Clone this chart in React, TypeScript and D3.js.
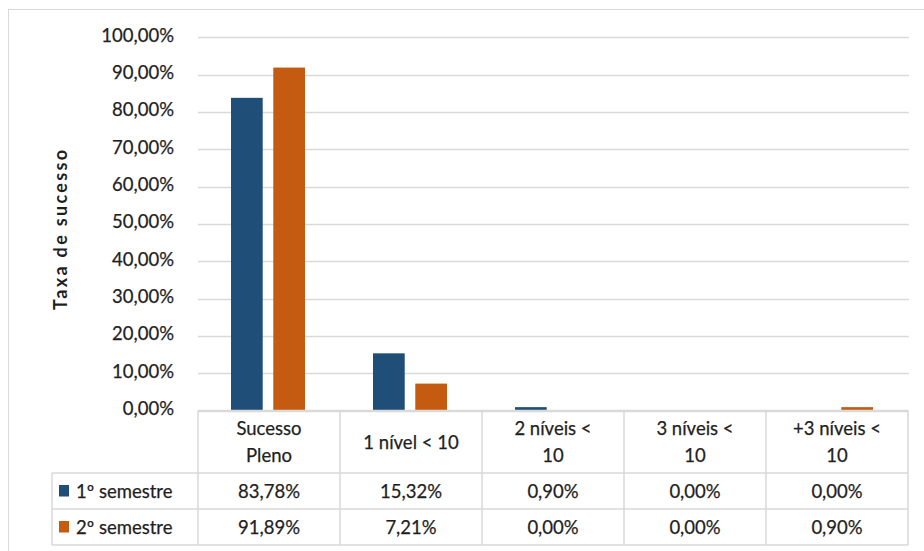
import React from "react";
import * as d3 from "d3";

const categories: string[][] = [
  ["Sucesso", "Pleno"],
  ["1 nível < 10"],
  ["2 níveis <", "10"],
  ["3 níveis <", "10"],
  ["+3 níveis <", "10"],
];
const seriesNames = ["1º semestre", "2º semestre"];
const semestre1 = [83.78, 15.32, 0.9, 0.0, 0.0];
const semestre2 = [91.89, 7.21, 0.0, 0.0, 0.9];
const seriesColors = ["#1F4E79", "#C55A11"];
const yTicks = [0, 10, 20, 30, 40, 50, 60, 70, 80, 90, 100];
const yLabel = "Taxa de sucesso";

const fmt = (v: number) => v.toFixed(2).replace(".", ",") + "%";

export default function App() {
  const W = 924;
  const H = 551;
  const left = 198;
  const right = 908;
  const top = 37.3;
  const base = 410.5;
  const rowTops = [410.5, 473, 509, 545];
  const legendLeft = 52;
  const font = "Lato, 'Open Sans', sans-serif";
  const textColor = "#1f1f1f";
  const grid = "#d9d9d9";
  const fs = 18.5;

  const catIdx = categories.map((_, i) => String(i));
  const x = d3.scaleBand<string>().domain(catIdx).range([left, right]).padding(0);
  const y = d3.scaleLinear().domain([0, 100]).range([base, top]);
  const inner = d3
    .scaleBand<string>()
    .domain(seriesNames)
    .range([-38, 36])
    .paddingInner(0.25);

  const seriesData = [semestre1, semestre2];

  return (
    <svg
      width={W}
      height={H}
      style={{ position: "absolute", left: 0, top: 0, background: "#fff" }}
      fontFamily={font}
    >
      <rect x={8.5} y={9.5} width={2000} height={2000} fill="#fff" stroke={grid} />

      {/* gridlines */}
      {yTicks.map((t) => (
        <line
          key={"g" + t}
          x1={left}
          x2={right + 1}
          y1={Math.round(y(t)) + 0.5}
          y2={Math.round(y(t)) + 0.5}
          stroke={grid}
          strokeWidth={1.3}
        />
      ))}

      {/* tick labels */}
      {yTicks.map((t) => (
        <text
          key={"t" + t}
          x={174}
          y={y(t) - 2.5}
          textAnchor="end"
          dominantBaseline="central"
          fontSize={fs}
          fill={textColor}
          stroke={textColor}
          strokeWidth={0.25}
        >
          {fmt(t)}
        </text>
      ))}

      {/* y axis label */}
      <text
        transform={`translate(60,${(top + base) / 2 + 6}) rotate(-90)`}
        textAnchor="middle"
        dominantBaseline="central"
        fontSize={18}
        fontWeight={700}
        fill={textColor}
        textLength={160}
        lengthAdjust="spacing"
      >
        {yLabel}
      </text>

      {/* bars */}
      {seriesData.map((vals, si) =>
        vals.map((v, ci) => {
          if (v <= 0) return null;
          const cx = (x(String(ci)) as number) + x.bandwidth() / 2;
          const bx = cx + (inner(seriesNames[si]) as number);
          return (
            <rect
              key={`b${si}-${ci}`}
              x={bx}
              y={y(v)}
              width={inner.bandwidth()}
              height={base - y(v)}
              fill={seriesColors[si]}
            />
          );
        })
      )}

      {/* table lines */}
      <line x1={left} x2={right} y1={rowTops[0]} y2={rowTops[0]} stroke={grid} strokeWidth={1.5} />
      {rowTops.slice(1).map((ry, i) => (
        <line key={"h" + i} x1={legendLeft} x2={right} y1={ry} y2={ry} stroke={grid} strokeWidth={1.5} />
      ))}
      <line x1={legendLeft} x2={legendLeft} y1={rowTops[1]} y2={rowTops[3]} stroke={grid} strokeWidth={1.5} />
      {catIdx.map((c) => (
        <line
          key={"v" + c}
          x1={x(c) as number}
          x2={x(c) as number}
          y1={rowTops[0]}
          y2={rowTops[3]}
          stroke={grid}
          strokeWidth={1.5}
        />
      ))}
      <line x1={right} x2={right} y1={rowTops[0]} y2={rowTops[3]} stroke={grid} strokeWidth={1.5} />

      {/* header text */}
      {categories.map((lines, ci) => {
        const cx = (x(String(ci)) as number) + x.bandwidth() / 2;
        const mid = (rowTops[0] + rowTops[1]) / 2;
        const lh = 27;
        return lines.map((ln, li) => (
          <text
            key={`c${ci}-${li}`}
            x={cx}
            y={mid + (li - (lines.length - 1) / 2) * lh}
            textAnchor="middle"
            dominantBaseline="central"
            fontSize={fs}
            fill={textColor}
            stroke={textColor}
            strokeWidth={0.25}
          >
            {ln}
          </text>
        ));
      })}

      {/* data rows */}
      {seriesData.map((vals, si) => {
        const my = (rowTops[si + 1] + rowTops[si + 2]) / 2;
        return (
          <g key={"r" + si}>
            <rect x={59} y={my - 6} width={10} height={11.5} fill={seriesColors[si]} />
            <text
              x={76}
              y={my}
              dominantBaseline="central"
              fontSize={fs}
              fill={textColor}
              stroke={textColor}
              strokeWidth={0.25}
            >
              {seriesNames[si]}
            </text>
            {vals.map((v, ci) => (
              <text
                key={"d" + ci}
                x={(x(String(ci)) as number) + x.bandwidth() / 2}
                y={my}
                textAnchor="middle"
                dominantBaseline="central"
                fontSize={fs}
                fill={textColor}
                stroke={textColor}
                strokeWidth={0.25}
              >
                {fmt(v)}
              </text>
            ))}
          </g>
        );
      })}
    </svg>
  );
}
